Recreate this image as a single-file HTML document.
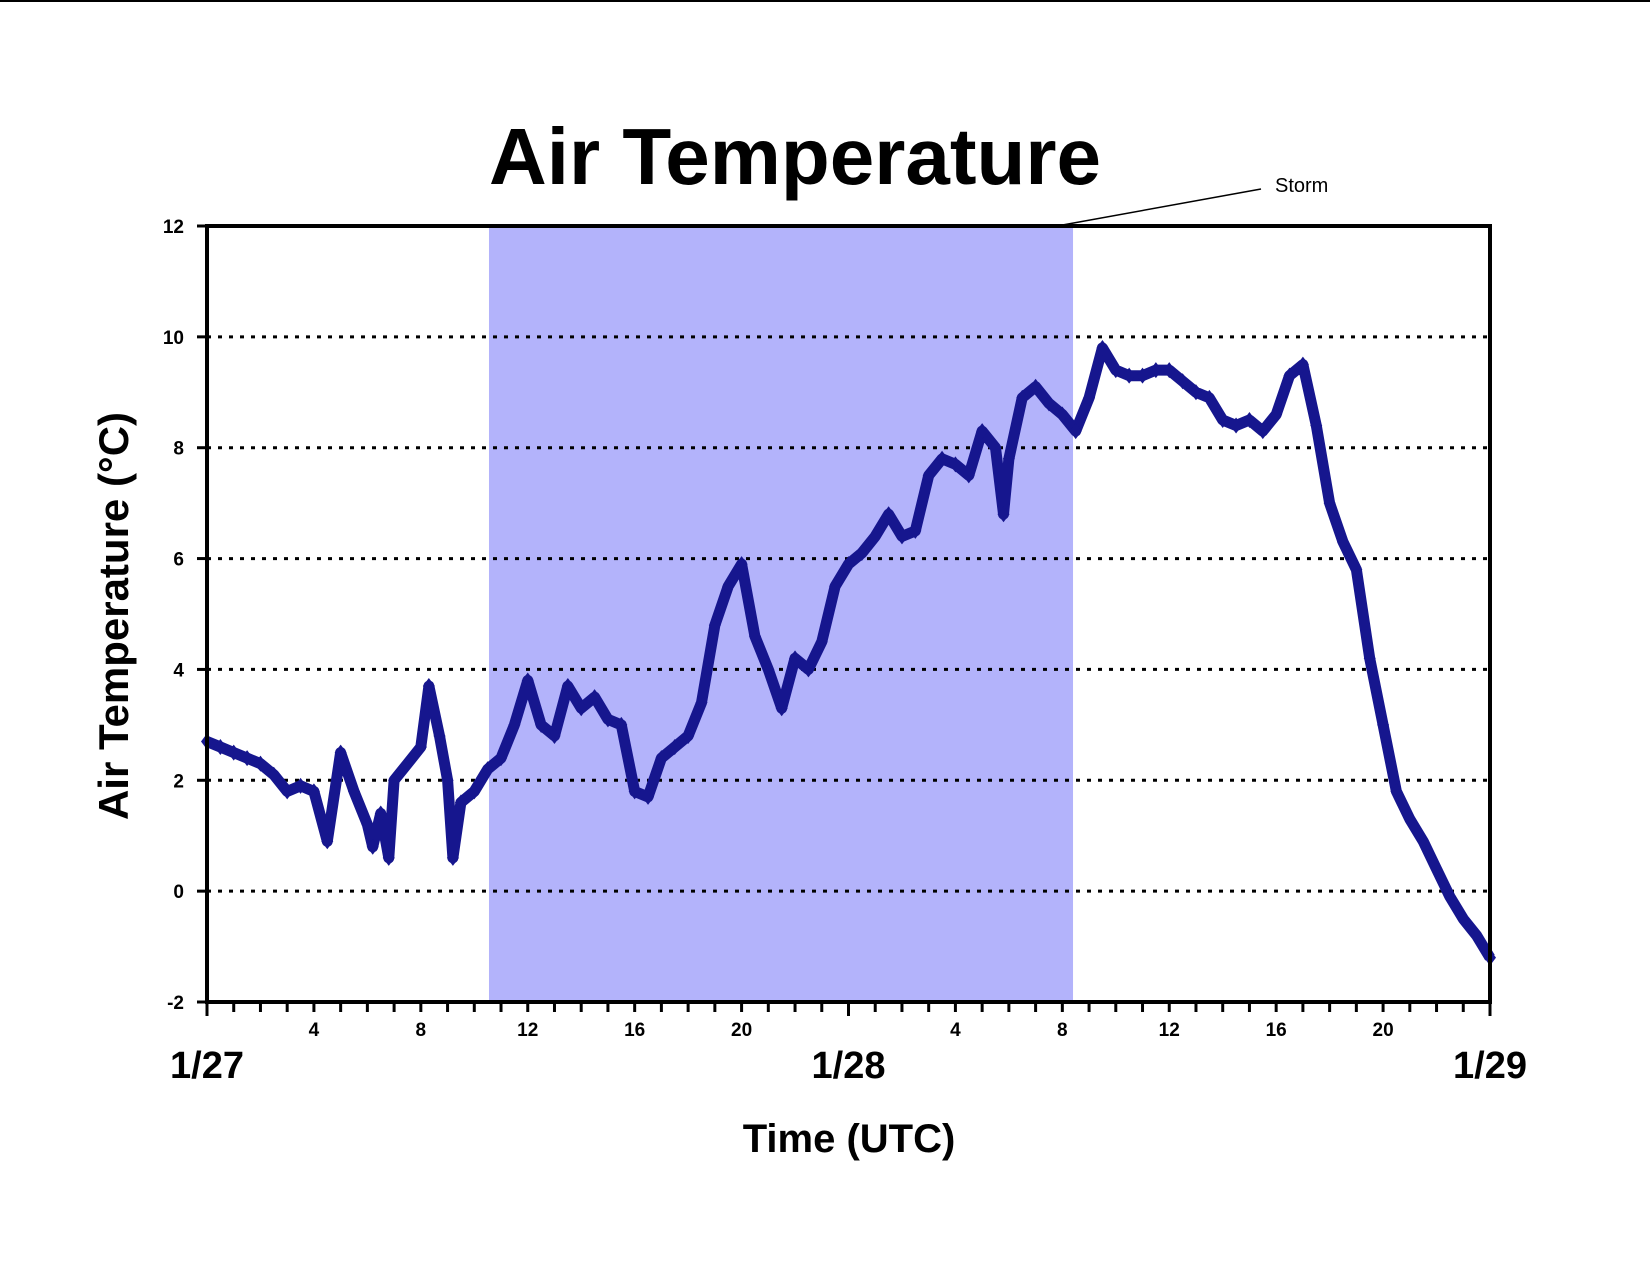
<!DOCTYPE html>
<html><head><meta charset="utf-8"><style>
body{margin:0;background:#fff;}
svg{display:block;font-family:"Liberation Sans",Arial,sans-serif;font-weight:bold;}
</style></head><body>
<svg id="chart" width="1650" height="1275" viewBox="0 0 1650 1275" xmlns="http://www.w3.org/2000/svg">
<rect x="0" y="0" width="1650" height="2" fill="#000"/>
<text x="795" y="184" font-size="80" text-anchor="middle">Air Temperature</text>
<g id="plot"></g>
<text x="1275" y="192" font-size="20" font-weight="normal">Storm</text>
<line x1="1057" y1="226" x2="1261" y2="189" stroke="#000" stroke-width="1.5"/>
<text x="849" y="1152" font-size="40" text-anchor="middle">Time (UTC)</text>
<text transform="translate(128,616) rotate(-90)" font-size="42" text-anchor="middle">Air Temperature (°C)</text>
</svg>
<script>
const hours = [0,0.5,1,1.5,2,2.5,3,3.5,4,4.5,5,5.5,6,6.2,6.5,6.8,7,7.5,8,8.3,8.7,9,9.2,9.5,10,10.5,11,11.5,12,12.5,13,13.5,14,14.5,15,15.5,16,16.5,17,17.5,18,18.5,19,19.5,20,20.5,21,21.5,22,22.5,23,23.5,24,24.5,25,25.5,26,26.5,27,27.5,28,28.5,29,29.5,29.8,30,30.5,31,31.5,32,32.5,33,33.5,34,34.5,35,35.5,36,36.5,37,37.5,38,38.5,39,39.5,40,40.5,41,41.5,42,42.5,43,43.5,44,44.5,45,45.5,46,46.5,47,47.5,48];
const temps = [2.7,2.6,2.5,2.4,2.3,2.1,1.8,1.9,1.8,0.9,2.5,1.8,1.2,0.8,1.4,0.6,2.0,2.3,2.6,3.7,2.8,2.0,0.6,1.6,1.8,2.2,2.4,3.0,3.8,3.0,2.8,3.7,3.3,3.5,3.1,3.0,1.8,1.7,2.4,2.6,2.8,3.4,4.8,5.5,5.9,4.6,4.0,3.3,4.2,4.0,4.5,5.5,5.9,6.1,6.4,6.8,6.4,6.5,7.5,7.8,7.7,7.5,8.3,8.0,6.8,7.8,8.9,9.1,8.8,8.6,8.3,8.9,9.8,9.4,9.3,9.3,9.4,9.4,9.2,9.0,8.9,8.5,8.4,8.5,8.3,8.6,9.3,9.5,8.4,7.0,6.3,5.8,4.2,3.0,1.8,1.3,0.9,0.4,-0.1,-0.5,-0.8,-1.2];
const yTicks = [-2,0,2,4,6,8,10,12];
const gridValues = [0,2,4,6,8,10];
const hourLabels = [4,8,12,16,20,28,32,36,40,44];
const hourLabelText = ["4","8","12","16","20","4","8","12","16","20"];
const dateHours = [0,24,48];
const dateLabels = ["1/27","1/28","1/29"];
const storm = [10.55,32.4];

const L=207,R=1490,T=226,B=1002,ymin=-2,ymax=12;
const xs=h=>L+(R-L)*h/48;
const ys=v=>B-(B-T)*(v-ymin)/(ymax-ymin);
const NS="http://www.w3.org/2000/svg";
const g=document.getElementById('plot');
function mk(t,a){const e=document.createElementNS(NS,t);for(const k in a)e.setAttribute(k,a[k]);g.appendChild(e);return e;}

let e=mk('rect',{x:xs(storm[0]),y:T,width:xs(storm[1])-xs(storm[0]),height:B-T,fill:'#b3b3fb'});



gridValues.forEach(v=>{const l=mk('line',{x1:L,x2:R,y1:ys(v),y2:ys(v),stroke:'#000','stroke-width':3,'stroke-dasharray':'4 7'});

});

let pts=hours.map((h,i)=>xs(h).toFixed(1)+','+ys(temps[i]).toFixed(1)).join(' ');
e=mk('polyline',{points:pts,fill:'none',stroke:'#16168e','stroke-width':11,'stroke-linejoin':'round'});


hours.forEach((h,i)=>{const x=xs(h),y=ys(temps[i]);
const d=mk('polygon',{points:`${x},${y-8} ${x+6},${y} ${x},${y+8} ${x-6},${y}`,fill:'#16168e'});

});

e=mk('rect',{x:L,y:T,width:R-L,height:B-T,fill:'none',stroke:'#000','stroke-width':4});



yTicks.forEach(v=>{const l=mk('line',{x1:L-10,x2:L,y1:ys(v),y2:ys(v),stroke:'#000','stroke-width':3});


const t=mk('text',{x:184,y:ys(v)+7,'font-size':19,'text-anchor':'end'});t.textContent=v;

});

for(let h=0;h<=48;h++){const long=(h%24===0);const l=mk('line',{x1:xs(h),x2:xs(h),y1:B,y2:B+(long?14:10),stroke:'#000','stroke-width':3});

}
hourLabels.forEach((h,i)=>{const t=mk('text',{x:xs(h),y:1036,'font-size':19,'text-anchor':'middle'});t.textContent=hourLabelText[i];

});
dateHours.forEach((h,i)=>{const t=mk('text',{x:xs(h),y:1078,'font-size':38,'text-anchor':'middle'});t.textContent=dateLabels[i];

});
</script>
</body></html>
